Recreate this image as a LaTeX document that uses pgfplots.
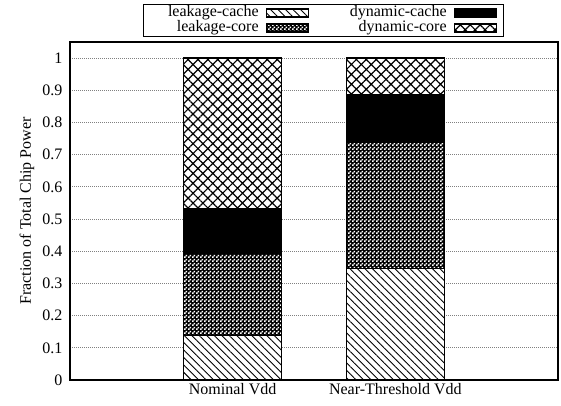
\documentclass[border=0pt]{standalone}
\usepackage{fontspec}
\setmainfont{Liberation Serif}
\usepackage{pgfplots}
\pgfplotsset{compat=1.18}
\usetikzlibrary{patterns.meta}

\pgfdeclarepattern{
  name=checker,
  type=uncolored,
  bottom left={\pgfpoint{0bp}{0bp}},
  top right={\pgfpoint{4bp}{4bp}},
  tile size={\pgfpoint{4bp}{4bp}},
  code={
    \pgfpathrectangle{\pgfpoint{0.1bp}{0.1bp}}{\pgfpoint{1.8bp}{1.8bp}}
    \pgfpathrectangle{\pgfpoint{2.1bp}{2.1bp}}{\pgfpoint{1.8bp}{1.8bp}}
    \pgfusepath{fill}
  }
}

\newcommand{\chartfont}{\fontsize{16bp}{19bp}\selectfont}

\tikzset{
  pLC/.style={fill=white, draw=black, line width=1.2bp, postaction={pattern={Lines[angle=-45, distance=5.3bp, line width=0.9bp]}}},
  pLK/.style={fill=black, draw=black, line width=1.2bp, postaction={pattern=checker, pattern color=white}},
  pDC/.style={fill=black, draw=black, line width=1.2bp},
  pDK/.style={fill=white, draw=black, line width=1.2bp, postaction={pattern={Hatch[angle=45, distance=7bp, line width=1.2bp]}}},
}

\begin{document}
\begin{tikzpicture}
\path[use as bounding box] (0,0) rectangle (561bp,406bp);
\begin{axis}[
  at={(70bp,26bp)}, anchor=south west,
  width=488bp, height=338bp, scale only axis,
  xmin=0, xmax=3, ymin=0, ymax=1.05,
  ybar stacked, bar width=0.605,
  xtick={1,2}, xticklabels={Nominal Vdd, Near-Threshold Vdd},
  ytick={0,0.1,0.2,0.3,0.4,0.5,0.6,0.7,0.8,0.9,1},
  yticklabel style={/pgf/number format/fixed, /pgf/number format/precision=1, xshift=-4bp},
  /pgf/number format/assume math mode=true,
  major tick length=0pt,
  tick label style={font=\chartfont},
  label style={font=\chartfont},
  ylabel={Fraction of Total Chip Power},
  y label style={at={(axis description cs:-0.088,0.5)}, anchor=center},
  ymajorgrids,
  grid style={dash pattern=on 1bp off 1bp, gray, line width=0.8bp},
  axis line style={line width=1.2bp, black},
  legend columns=2,
  legend plot pos=right,
  legend cell align=right,
  legend image code/.code={\draw[#1] (0bp,-4bp) rectangle (42bp,4bp);},
  legend style={at={(axis description cs:0.889,1)}, anchor=south east, yshift=5bp,
    draw=black, line width=1bp, font=\chartfont,
    inner xsep=6bp, inner ysep=1bp,
    nodes={inner sep=0.5bp, text height=11bp, text depth=3bp},
    column sep=7bp, /tikz/column 2/.style={column sep=40bp}},
]
\addplot[pLC, forget plot] coordinates {(1,0.138) (2,0.346)};
\addplot[pLK, forget plot] coordinates {(1,0.255) (2,0.392)};
\addplot[pDC, forget plot] coordinates {(1,0.141) (2,0.148)};
\addplot[pDK, forget plot] coordinates {(1,0.466) (2,0.114)};
\addlegendimage{pLC}\addlegendentry{\hspace{18bp}leakage-cache}
\addlegendimage{pDC}\addlegendentry{dynamic-cache}
\addlegendimage{pLK}\addlegendentry{leakage-core}
\addlegendimage{pDK}\addlegendentry{dynamic-core}
\end{axis}
\end{tikzpicture}
\end{document}
